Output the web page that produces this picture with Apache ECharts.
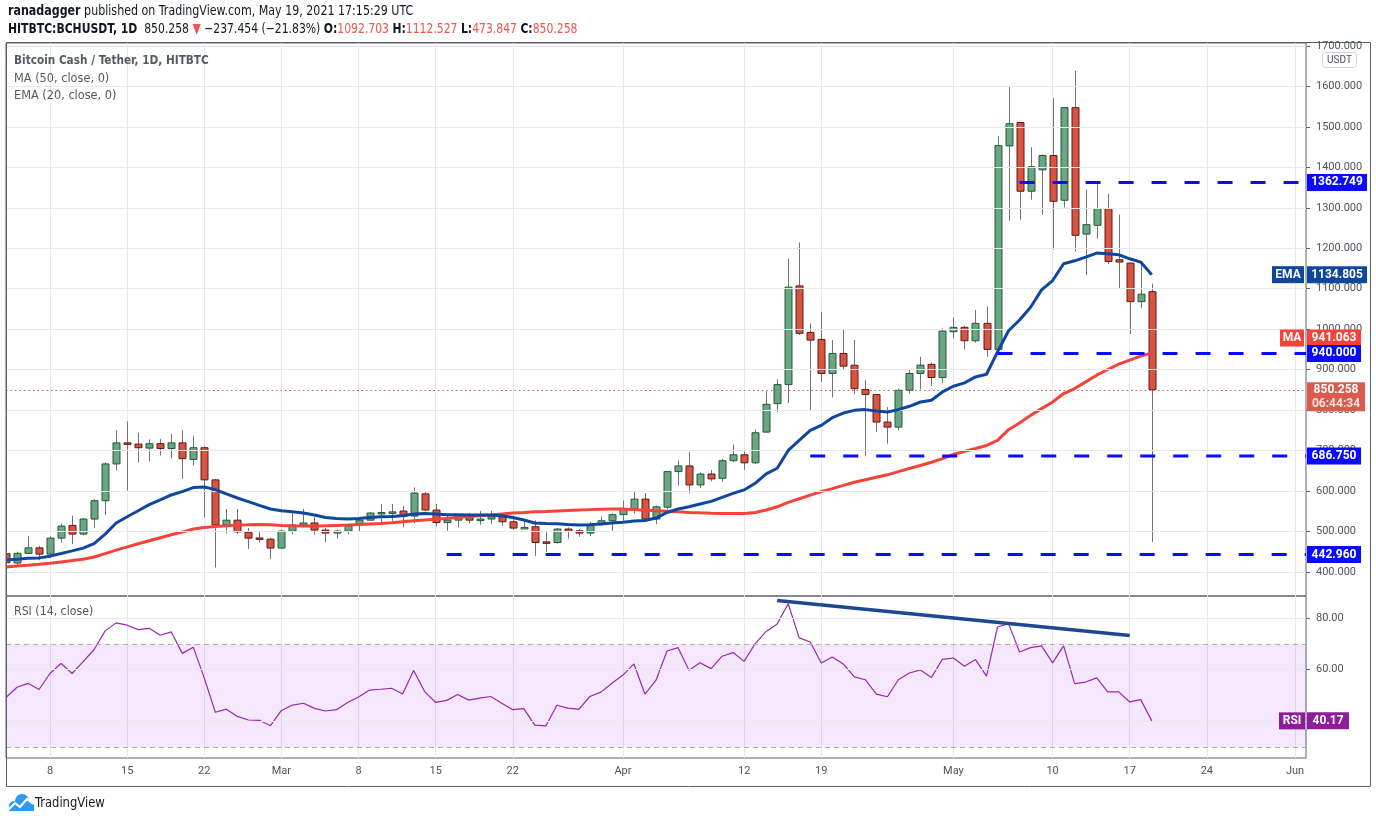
<!DOCTYPE html>
<html><head><meta charset="utf-8">
<script src="https://cdn.jsdelivr.net/npm/echarts@6/dist/echarts.min.js"></script>
<style>html,body{margin:0;padding:0;background:#fff;overflow:hidden}#c{width:1376px;height:823px}</style>
</head><body><div id="c"></div>
<script>
// ---------- categories (daily, Feb 4 2021 .. Jun 2 2021) ----------
const categories = (function () {
  const out = [];
  const start = Date.UTC(2021, 1, 4);
  for (let i = 0; i < 119; i++) {
    const d = new Date(start + i * 86400000);
    out.push(d.toISOString().slice(0, 10));
  }
  return out;
})();
const monthNames = ['Jan','Feb','Mar','Apr','May','Jun','Jul','Aug','Sep','Oct','Nov','Dec'];
const xTickDates = ['2021-02-08','2021-02-15','2021-02-22','2021-03-01','2021-03-08','2021-03-15','2021-03-22',
  '2021-04-01','2021-04-12','2021-04-19','2021-05-01','2021-05-10','2021-05-17','2021-05-24','2021-06-01'];
const priceTicks = [400,500,600,700,800,900,1000,1100,1200,1300,1400,1500,1600,1700];
const rsiGridTicks = [40,60,80];
const rsiLabelTicks = [60,80];

// ---------- OHLC (Feb 4 .. May 19) ----------
const opens = [445,422,446,459.5,444,483.6,515,493.5,530.7,576,667,719,716,706,717,705,719,678,707,627.5,
  516,528,498,484,481,459,501,516,521,503.5,496,501,516,528,545,547,550.6,538,593,553,
  522,528,540.6,528,530.7,536.5,524,508.4,511.6,474.4,472.7,506,501.7,496,518,526.5,541.5,555.6,580,530.7,
  560,648,662,615,642,631.5,675,689.5,669.7,745.6,816,863,1107,992,974.8,890.5,940,911,850.8,838.4,
  770.4,758,849,890.5,913,880.5,993.7,1004.6,971.4,1014.5,950,1453,1510.8,1341,1394,1429.3,1318.7,1547.6,1235,1256.7,
  1298,1171.6,1163.4,1068,1092.703];
const highs = [452,450,489,464.5,488.6,519.8,539,533,580,671,750,772,744,727.5,729,741.6,750,737,710,630,
  555.6,555.6,508.4,501.7,485,505,549,555.6,536.5,508.4,504,518,531,548,568,568,563.7,609,600,568,
  539,543,546,551,551,543,539,531,528,501.7,508.4,510,506,524,536.5,545,576,598.5,595,564,
  648,675,696,646,652,679.6,715,697.7,752,846.6,876,1174,1214.5,1014.5,1043,973,999.6,973,874,840,
  807.6,853,899,931.7,917,1002,1029,1008.6,1047.5,1055.7,1477.5,1601.6,1512,1450,1432,1571,1549,1638.8,1345.3,1362,
  1335,1283,1165,1167.4,1112.527];
const lows = [418,415,445,429,435.5,472.7,468.7,490,508,540.6,650.6,601,670,673.5,688,681,630,663,535,410.7,
  495,493.5,456.3,472.7,431.5,456,493.5,510,492,472.7,482.6,493.5,500,526,518,526.5,510,520,550,512,
  501.7,510,520,516.6,518,514,504,506,439.7,449.6,470,482.6,487,489,513.4,501.7,526.5,544.7,526,518,
  555,613.4,594,608,624,623,671,652,667,745,795,817.6,985.5,797.7,869.6,831,898.7,839,686,745.6,
  716.8,750,841,851,859,867,977,950,966.4,931.7,940,1268,1271,1320,1283,1196.4,1301,1192,1134,1223.7,
  1161,1099,988,1053,473.847];
const closes = [423,446,459.5,444,483.6,513.4,493.5,530.7,576,667,719,716,707,717,705,719,680,707,627.5,516,
  528,499,483.6,482.6,459,501,516,521,503.5,496,501,516,528,545.6,547,548.5,538,595,553,522,
  528,540.6,528,530.7,536.5,524,508.4,510,472.7,472.7,506,500,496,518,526.5,541.5,555.6,580,530.7,561,
  648,662,615,642,630,675,689.5,669.7,744,814.3,863,1104,989.7,973,890.5,940,908.6,853,838.4,770.4,
  758,849,890.5,911,880.5,995.4,1004.6,971.4,1014.5,950,1453.7,1508,1341,1401.6,1429.3,1316,1547.6,1232,1258.4,1298,
  1167.4,1166,1068,1086.5,850.258];

// ---------- indicators ----------
const ema20 = [429.8,431.5,434,434.7,439,445.4,452,458.8,470,493.5,520.8,536.5,551.3,566.2,578,590.3,598.5,608.4,610,603.4,
  592.8,582.8,573.7,564.5,555.6,551.3,548.9,545.6,540.7,534.7,532.2,530.7,532.2,534.7,536.5,537.2,538.9,543.1,544.6,543.1,
  541.4,541.4,540.7,540.7,540.7,538.9,534.7,528.3,520.8,519.8,519,517.4,515.9,516.6,518.3,520.8,523,526,527,533.2,
  547,555.6,561.3,568,574.4,584.3,594.3,602.7,619,642.4,656.3,700.2,725,749.8,762.2,781.3,792.7,799.4,801.2,797.7,
  795.2,801.2,809.4,820,824.3,844.9,859,867.2,882,888.7,944,996.2,1022.7,1054.2,1097.2,1120.3,1161.7,1169,1178.3,1188.2,
  1186.5,1184,1174,1165.9,1134.805];
const ma50 = [412.4,414.9,416.6,419,421.6,424.8,428,431.5,437,445.4,453.8,462,469.5,477,484.4,491.8,498.5,506,510,512.4,
  514,515.9,516.6,517.4,516.6,515,514,513.5,513.4,514,515,515.9,517,518.5,519.8,521.5,524,526.5,528.5,530.5,
  532.2,534.5,536.7,538.9,541,543.5,545.6,547,548.5,549.6,550.8,552,553,554,555,555.6,555.6,554,552.5,551.3,
  550,548.5,547.1,546,545,544.6,544.4,544.6,547,553,561,572,581,590,598.5,606,614,621.6,628,634,
  640,648,655.5,663,671,680,690.3,698,705,712.6,725,751.6,768,787,803.7,820,840.9,853.3,869.7,886.3,
  900.4,913.6,923.5,933.4,941.063];
const rsi14 = [49.2,53.2,54.7,52.3,58.6,62.4,58.5,63.1,67.8,75,78.1,77.2,75.5,76,73.3,74.6,66.3,68.7,56.7,43.5,
  44.7,41.9,40.5,40.4,38.3,44.2,46.3,47,45,44,44.5,47.3,49.4,52.1,52.4,52.8,50.6,59.7,51.5,47.3,
  48.1,50.4,48.2,49,49.6,47,44.5,44.9,38.5,38.2,46.2,45.1,44.6,49.6,51.3,54.7,57.9,62.2,50.5,55.9,
  67.2,68.5,59.8,62.7,60.4,65.2,66.6,63.2,70.1,74.8,77.7,85.5,72.3,70.7,62.6,64.9,62.2,57.2,56.1,50.5,
  49.5,56.1,58.7,59.9,57,64,64.5,61.3,63.9,57.5,76.5,77.8,66.8,68.5,69.2,62.6,69.2,54.6,55.2,56.8,
  51.4,51.4,47.5,48.4,40.17];

// ---------- drawn levels ----------
const levelValues = [1362.749, 940.0, 686.75, 442.96];
const levelStarts = ['2021-05-07','2021-05-05','2021-04-18','2021-03-16'];
const trendDates = ['2021-04-15','2021-05-17'];
const trendValues = [86.8, 73.2];
const lastPrice = 850.258;
const lastEma = 1134.805;
const lastMa = 941.063;
const lastRsi = 40.17;

// ---------- styles ----------
const uiFont = '"Liberation Sans Narrow","DejaVu Sans Condensed","Roboto Condensed",Roboto,sans-serif';
const axisFont = 'Roboto, "Liberation Sans", sans-serif';
const axisText = '#50535e';
const frame = '#5d606b';
const gridLine = '#e8e8ea';
const levelBlue = '#0a0aff';
const emaColor = '#0f47a0';
const maColor = '#f5433a';
const rsiColor = '#9c27b0';
const lastCat = categories[categories.length - 1];
const tickSet = new Set(xTickDates);
const isTick = (idx, val) => tickSet.has(val);
const fmtDate = (v) => { const d = +v.slice(8, 10); const m = +v.slice(5, 7); return d === 1 ? monthNames[m - 1] : String(d); };

const candleData = opens.map((o, i) => [i, o, closes[i], lows[i], highs[i]]);

function boxPoint(value, text, bg, w, h, dx, dy, extra) {
  return Object.assign({
    coord: [lastCat, value], symbol: 'rect', symbolSize: [w, h], symbolOffset: [dx, dy],
    itemStyle: { color: bg },
    label: { show: true, position: 'inside', formatter: text, color: '#fff', fontSize: 12, fontWeight: 'bold', fontFamily: axisFont }
  }, extra || {});
}

const levelSeries = levelValues.map((v, k) => ({
  type: 'line', xAxisIndex: 0, yAxisIndex: 0, z: 6, silent: true, symbol: 'none', showSymbol: false,
  data: [[levelStarts[k], v], [lastCat, v]],
  lineStyle: { color: levelBlue, width: 3, type: [15, 18] }
}));

const chart = echarts.init(document.getElementById('c'), null, { renderer: 'canvas' });
chart.setOption({
  animation: false,
  backgroundColor: '#ffffff',
  grid: [
    { left: 6, right: 70, top: 43, height: 553, show: true, borderColor: frame, borderWidth: 1 },
    { left: 6, right: 70, top: 596, height: 162, show: true, borderColor: frame, borderWidth: 1 }
  ],
  xAxis: [
    { type: 'category', gridIndex: 0, data: categories, boundaryGap: false,
      axisLine: { show: false }, axisTick: { show: false }, axisLabel: { show: false },
      splitLine: { show: true, interval: isTick, lineStyle: { color: gridLine, width: 1 } } },
    { type: 'category', gridIndex: 1, data: categories, boundaryGap: false,
      axisLine: { show: false }, axisTick: { show: false },
      axisLabel: { show: true, interval: isTick, formatter: fmtDate, color: axisText, fontSize: 11, fontFamily: axisFont, margin: 8 },
      splitLine: { show: true, interval: isTick, lineStyle: { color: gridLine, width: 1 } } }
  ],
  yAxis: [
    { type: 'value', gridIndex: 0, position: 'right', min: 340.5, max: 1707.4, scale: true,
      splitLine: { show: false }, axisLine: { show: false },
      axisTick: { show: true, length: 4, customValues: priceTicks, lineStyle: { color: frame } },
      axisLabel: { show: true, customValues: priceTicks, formatter: v => v.toFixed(3), color: axisText, fontSize: 11, fontFamily: axisFont, margin: 10 } },
    { type: 'value', gridIndex: 1, position: 'right', min: 25.8, max: 88.5, scale: true,
      splitLine: { show: false }, axisLine: { show: false },
      axisTick: { show: true, length: 4, customValues: rsiLabelTicks, lineStyle: { color: frame } },
      axisLabel: { show: true, customValues: rsiLabelTicks, formatter: v => v.toFixed(2), color: axisText, fontSize: 11, fontFamily: axisFont, margin: 10 } }
  ],
  series: [
    { type: 'line', xAxisIndex: 0, yAxisIndex: 0, z: 1, silent: true, symbol: 'none', data: ma50,
      lineStyle: { opacity: 0 },
      markLine: { silent: true, symbol: ['none', 'none'], label: { show: false }, animation: false,
        data: priceTicks.map(v => ({ yAxis: v, lineStyle: { color: gridLine, width: 1, type: 'solid' } }))
          .concat([{ yAxis: lastPrice, lineStyle: { color: '#d9574a', width: 1, type: [1.5, 3] } }]) } },
    { type: 'custom', xAxisIndex: 0, yAxisIndex: 0, z: 3, clip: true, silent: true,
      encode: { x: 0, y: [1, 2, 3, 4] },
      data: candleData,
      renderItem: function (params, api) {
        const idx = api.value(0);
        const o = api.value(1), c = api.value(2), l = api.value(3), h = api.value(4);
        const top = api.coord([idx, Math.max(o, c)]);
        const bot = api.coord([idx, Math.min(o, c)]);
        const hi = api.coord([idx, h]);
        const lo = api.coord([idx, l]);
        const up = c >= o;
        const x = Math.round(top[0]) + 0.5;
        return { type: 'group', children: [
          { type: 'line', shape: { x1: x, y1: hi[1], x2: x, y2: lo[1] }, style: { stroke: '#737375', lineWidth: 1 } },
          { type: 'rect', shape: { x: x - 3.5, y: top[1], width: 7, height: Math.max(1.5, bot[1] - top[1]) },
            style: { fill: up ? '#6ba583' : '#d75442', stroke: up ? '#215a38' : '#5e1a12', lineWidth: 1 } }
        ] };
      } },
    { type: 'line', xAxisIndex: 0, yAxisIndex: 0, z: 4, silent: true, symbol: 'none', showSymbol: false, data: ma50,
      lineStyle: { color: maColor, width: 3 } },
    { type: 'line', xAxisIndex: 0, yAxisIndex: 0, z: 5, silent: true, symbol: 'none', showSymbol: false, data: ema20,
      lineStyle: { color: emaColor, width: 3 } },
    ...levelSeries,
    { type: 'line', xAxisIndex: 0, yAxisIndex: 0, z: 20, silent: true, symbol: 'none', data: ema20, lineStyle: { opacity: 0 },
      markPoint: { silent: true, animation: false, data: [
        boxPoint(levelValues[0], '1362.749', levelBlue, 60, 17, 31, 0),
        boxPoint(lastEma, '1134.805', emaColor, 60, 17, 31, 0),
        boxPoint(lastEma, 'EMA', emaColor, 32, 17, -18, 0),
        boxPoint(lastMa, '941.063', maColor, 54, 17, 28, -15),
        boxPoint(lastMa, 'MA', maColor, 24, 17, -14, -15),
        boxPoint(levelValues[1], '940.000', levelBlue, 54, 17, 28, 0),
        boxPoint(lastPrice, '850.258', '#da5a4c', 58, 29, 30, 7,
          { label: { show: true, position: 'inside', formatter: '850.258\n{s|06:44:34}', color: '#fff', fontSize: 12, fontWeight: 'bold', fontFamily: axisFont, lineHeight: 14,
            rich: { s: { color: 'rgba(255,255,255,0.82)', fontSize: 12, fontWeight: 'bold', fontFamily: axisFont, lineHeight: 14 } } } }),
        boxPoint(levelValues[2], '686.750', levelBlue, 54, 17, 28, 0),
        boxPoint(levelValues[3], '442.960', levelBlue, 54, 17, 28, 0)
      ] } },

    { type: 'line', xAxisIndex: 1, yAxisIndex: 1, z: 1, silent: true, symbol: 'none', data: rsi14, lineStyle: { opacity: 0 },
      markArea: { silent: true, animation: false, itemStyle: { color: 'rgba(170,60,230,0.12)' }, data: [[{ yAxis: 30 }, { yAxis: 70 }]] },
      markLine: { silent: true, animation: false, symbol: ['none', 'none'], label: { show: false },
        data: rsiGridTicks.map(v => ({ yAxis: v, lineStyle: { color: gridLine, width: 1, type: 'solid' } }))
          .concat([30, 70].map(v => ({ yAxis: v, lineStyle: { color: '#b4a9ba', width: 1, type: [5, 4] } }))) } },
    { type: 'line', xAxisIndex: 1, yAxisIndex: 1, z: 4, silent: true, symbol: 'none', showSymbol: false, data: rsi14,
      lineStyle: { color: rsiColor, width: 1.2 } },
    { type: 'line', xAxisIndex: 1, yAxisIndex: 1, z: 5, silent: true, symbol: 'none', showSymbol: false,
      data: trendDates.map((d, k) => [d, trendValues[k]]),
      lineStyle: { color: '#1d4790', width: 3.5 } },
    { type: 'line', xAxisIndex: 1, yAxisIndex: 1, z: 20, silent: true, symbol: 'none', data: rsi14, lineStyle: { opacity: 0 },
      markPoint: { silent: true, animation: false, data: [
        boxPoint(lastRsi, '40.17', '#8e1d9c', 42, 17, 22, 0),
        boxPoint(lastRsi, 'RSI', '#8e1d9c', 26, 17, -14, 0)
      ] } }
  ],
  graphic: [
    { type: 'rect', silent: true, z: 50, shape: { x: 6.5, y: 42.5, width: 1364, height: 744 }, style: { fill: 'transparent', stroke: frame, lineWidth: 1 } },
    { type: 'text', silent: true, z: 50, x: 8, y: 4, scaleX: 0.88, style: {
      text: '{b|ranadagger} published on TradingView.com, May 19, 2021 17:15:29 UTC',
      font: '14px ' + uiFont, fill: '#131722',
      rich: { b: { fontWeight: 'bold', fontSize: 14, fontFamily: uiFont, fill: '#131722' } } } },
    { type: 'text', silent: true, z: 50, x: 8, y: 22, scaleX: 0.86, style: {
      text: '{b|HITBTC:BCHUSDT, 1D}  850.258 {r|▼} −237.454 (−21.83%) {b|O:}{r|1092.703} {b|H:}{r|1112.527} {b|L:}{r|473.847} {b|C:}{r|850.258}',
      font: '14px ' + uiFont, fill: '#131722',
      rich: { b: { fontWeight: 'bold', fontSize: 14, fontFamily: uiFont, fill: '#131722' },
              r: { fontSize: 14, fontFamily: uiFont, fill: '#ef5350' } } } },
    { type: 'text', silent: true, z: 50, x: 14, y: 54, scaleX: 0.9, style: { text: 'Bitcoin Cash / Tether, 1D, HITBTC', font: 'bold 13px ' + uiFont, fill: '#555962' } },
    { type: 'text', silent: true, z: 50, x: 14, y: 72, scaleX: 0.97, style: { text: 'MA (50, close, 0)', font: '13px ' + uiFont, fill: '#555962' } },
    { type: 'text', silent: true, z: 50, x: 14, y: 89, scaleX: 0.97, style: { text: 'EMA (20, close, 0)', font: '13px ' + uiFont, fill: '#555962' } },
    { type: 'text', silent: true, z: 50, x: 14, y: 605, scaleX: 0.94, style: { text: 'RSI (14, close)', font: '13px ' + uiFont, fill: '#555962' } },
    { type: 'rect', silent: true, z: 50, shape: { x: 1322.5, y: 52.5, width: 34, height: 15, r: 3 }, style: { fill: '#fff', stroke: '#cfd2d9', lineWidth: 1 } },
    { type: 'text', silent: true, z: 51, x: 1339.5, y: 60, style: { text: 'USDT', font: '10px ' + axisFont, fill: axisText, textAlign: 'center', textVerticalAlign: 'middle' } },
    { type: 'circle', silent: true, z: 50, shape: { cx: 14, cy: 806, r: 5 }, style: { fill: '#2a9af3' } },
    { type: 'circle', silent: true, z: 50, shape: { cx: 22, cy: 801, r: 7 }, style: { fill: '#2a9af3' } },
    { type: 'circle', silent: true, z: 50, shape: { cx: 29, cy: 806, r: 5 }, style: { fill: '#2a9af3' } },
    { type: 'rect', silent: true, z: 50, shape: { x: 9, y: 805, width: 25, height: 6 }, style: { fill: '#2a9af3' } },
    { type: 'polyline', silent: true, z: 51, shape: { points: [[8, 810], [15, 803], [20, 807], [27, 799], [33, 804]] }, style: { stroke: '#ffffff', lineWidth: 2, fill: null } },
    { type: 'text', silent: true, z: 50, x: 35, y: 796, scaleX: 0.92, style: { text: 'TradingView', font: '14px ' + uiFont, fill: '#131722' } }
  ]
});
</script>
</body></html>
